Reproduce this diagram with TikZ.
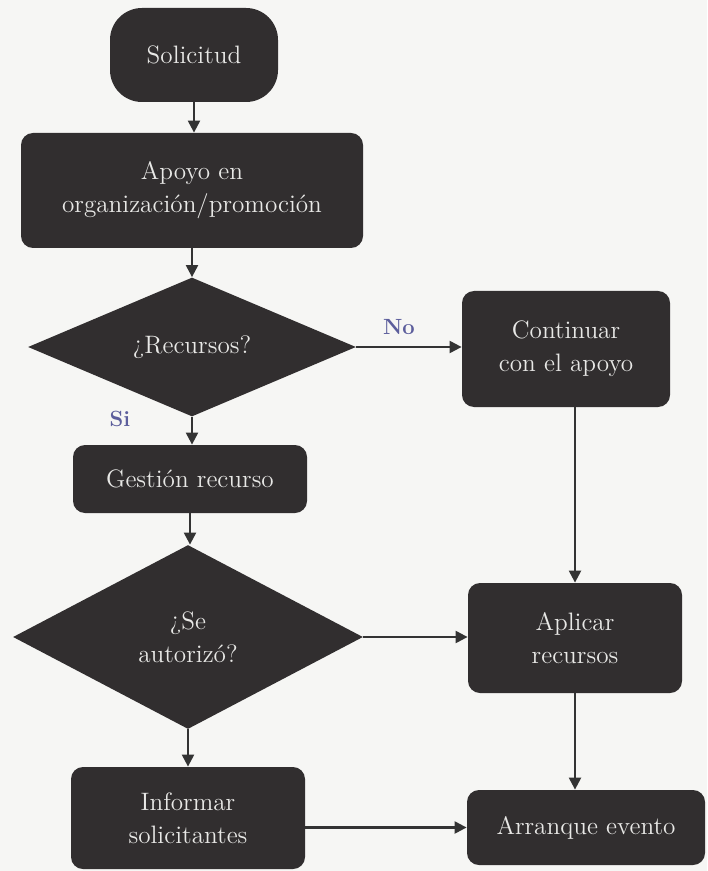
\documentclass[tikz,border=0pt]{standalone}
\usepackage{fontspec}
\usetikzlibrary{shapes.geometric,arrows.meta}
\definecolor{boxc}{HTML}{312E2F}
\definecolor{txtc}{HTML}{E8E8E6}
\definecolor{labc}{HTML}{5C5E9C}
\definecolor{bgc}{HTML}{F6F6F4}
\definecolor{linec}{HTML}{333333}
\begin{document}
\begin{tikzpicture}[x=0.5pt,y=-0.5pt,
  box/.style={fill=boxc, text=txtc, rounded corners=6pt, inner sep=0pt, align=center,
    font=\fontsize{12.6}{16.5}\selectfont},
  dia/.style={diamond, fill=boxc, text=txtc, inner sep=0pt, align=center,
    font=\fontsize{12.6}{16.5}\selectfont},
  arr/.style={draw=linec, line width=1.1pt, -{Triangle[length=6pt,width=6pt]}},
  lab/.style={text=labc, font=\bfseries\fontsize{11}{12}\selectfont}
]
\useasboundingbox[fill=bgc] (0,0) rectangle (707,871);

\node[box, rounded corners=16pt, minimum width=84pt, minimum height=47pt] (sol) at (194,55) {Solicitud};
\node[box, minimum width=171pt, minimum height=57.5pt] (apo) at (192,190.5) {Apoyo en\\organización/promoción};
\node[dia, aspect=2.3, minimum width=164pt, minimum height=69.5pt] (d1) at (192,347) {¿Recursos?};
\node[box, minimum width=117pt, minimum height=34pt] (ges) at (190,479) {Gestión recurso};
\node[dia, aspect=1.9, minimum width=175pt, minimum height=92pt] (d2) at (188,637) {¿Se\\autorizó?};
\node[box, minimum width=104pt, minimum height=58pt] (con) at (566,349) {Continuar\\con el apoyo};
\node[box, minimum width=107pt, minimum height=55pt] (apl) at (575,638) {Aplicar\\recursos};
\node[box, minimum width=117pt, minimum height=51pt] (inf) at (188,818) {Informar\\solicitantes};
\node[box, minimum width=119pt, minimum height=37.5pt] (arq) at (586,827.5) {Arranque evento};

\node[lab] (no) at (399,327) {No};
\node[lab] (si) at (120,419) {Si};

\draw[arr] (sol.south) -- (sol.south |- apo.north);
\draw[arr] (apo.south) -- (apo.south |- d1.north);
\draw[arr] (d1.south) -- (d1.south |- ges.north);
\draw[arr] (ges.south) -- (ges.south |- d2.north);
\draw[arr] (d2.south) -- (d2.south |- inf.north);
\draw[arr] (d1.east) -- (d1.east -| con.west);
\draw[arr] (d2.east) -- (d2.east -| apl.west);
\draw[arr] (con.south -| apl.north) -- (apl.north);
\draw[arr] (apl.south) -- (apl.south |- arq.north);
\draw[arr] (inf.east |- arq.west) -- (arq.west);
\end{tikzpicture}
\end{document}
